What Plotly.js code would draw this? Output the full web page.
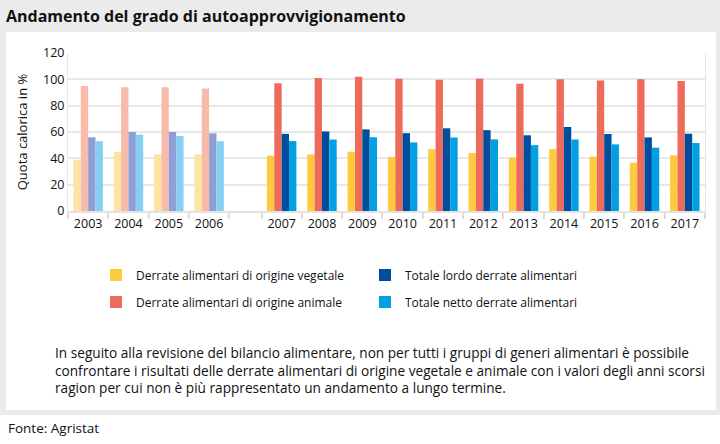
<!DOCTYPE html>
<html>
<head>
<meta charset="utf-8">
<script src="https://cdn.plot.ly/plotly-3.0.1.min.js"></script>
<style>
  html, body { margin: 0; padding: 0; background: #ffffff; }
  #chart { width: 720px; height: 444px; }
</style>
</head>
<body>
<div id="chart"></div>
<script>
// ---- Data ----
const years = ['2003','2004','2005','2006','2007','2008','2009','2010','2011','2012','2013','2014','2015','2016','2017'];
const vegetale = [39, 45, 43, 43, 42, 43, 45, 41, 47, 44, 40.5, 47, 41.3, 36.7, 42.3];
const animale  = [95, 94, 94, 93, 97, 101, 102, 100.5, 99.6, 100.5, 96.7, 100, 99.2, 100, 98.7];
const lordo    = [56, 60, 60, 59, 58.6, 60.4, 62, 59.1, 62.8, 61.4, 57.5, 63.8, 58.5, 55.9, 58.7];
const netto    = [53, 58, 57, 53, 53.1, 54.3, 56, 52.1, 55.8, 54.4, 50, 54.3, 50.6, 48.1, 51.6];
const seriesNames = [
  'Derrate alimentari di origine vegetale',
  'Derrate alimentari di origine animale',
  'Totale lordo derrate alimentari',
  'Totale netto derrate alimentari'
];
const oldCount = 4; // 2003-2006: old balance method (faded)

// ---- Styling ----
const colors      = ['#fecb3e', '#ee6b5b', '#004f9f', '#00a0e3'];
const fadedColors = ['#fee4a0', '#f8bba9', '#8f9ed4', '#86cff2'];
const FONT = '"Open Sans", "Noto Sans", sans-serif';
const W = 720, H = 444;
const M = {l: 68, r: 15, t: 53, b: 233};
const GAP = 0.8; // extra space between the two periods (in category units)

// x positions from index
const xpos = years.map((y, i) => i < oldCount ? i : i + GAP);
const bounds = xpos.map(x => x - 0.5);
bounds.push(xpos[oldCount - 1] + 0.5);
bounds.push(xpos[xpos.length - 1] + 0.5);

const legendOf = ['legend', 'legend2', 'legend', 'legend2'];
const allVals = [vegetale, animale, lordo, netto];
const traces = [];
allVals.forEach((vals, k) => {
  traces.push({
    type: 'bar', name: seriesNames[k], offsetgroup: 'g' + k,
    x: xpos.slice(0, oldCount), y: vals.slice(0, oldCount),
    marker: {color: fadedColors[k], line: {width: 0}},
    showlegend: false, hoverinfo: 'y+name'
  });
});
allVals.forEach((vals, k) => {
  traces.push({
    type: 'bar', name: seriesNames[k], offsetgroup: 'g' + k,
    x: xpos.slice(oldCount), y: vals.slice(oldCount),
    marker: {color: colors[k], line: {width: 0}},
    showlegend: true, legend: legendOf[k], hoverinfo: 'y+name'
  });
});

// pixel->paper helpers
const pw = W - M.l - M.r, ph = H - M.t - M.b;
const px = x => (x - M.l) / pw;
const py = y => (H - M.b - y) / ph;

const footLines = [
  'In seguito alla revisione del bilancio alimentare, non per tutti i gruppi di generi alimentari è possibile',
  'confrontare i risultati delle derrate alimentari di origine vegetale e animale con i valori degli anni scorsi',
  'ragion per cui non è più rappresentato un andamento a lungo termine.'
];
const annotations = [{
  text: footLines.join('<br>'), xref: 'paper', yref: 'paper', x: px(53), y: py(370),
  xanchor: 'left', yanchor: 'middle', showarrow: false, align: 'left',
  font: {family: FONT, size: 13.65, color: '#111111'}
}, {
  text: 'Fonte: Agristat', xref: 'paper', yref: 'paper', x: px(6), y: py(428),
  xanchor: 'left', yanchor: 'middle', showarrow: false,
  font: {family: FONT, size: 13.5, color: '#111111'}
}];

const shapes = [
  {type: 'rect', xref: 'paper', yref: 'paper', layer: 'below',
   x0: px(0), x1: px(720), y0: py(0), y1: py(415), fillcolor: '#ebebeb', line: {width: 0}},
  {type: 'rect', xref: 'paper', yref: 'paper', layer: 'below',
   x0: px(6), x1: px(716), y0: py(32), y1: py(410), fillcolor: '#ffffff', line: {width: 0}}
];

const legendBase = {
  orientation: 'h', xanchor: 'left', yanchor: 'middle',
  entrywidth: 224, entrywidthmode: 'pixels',
  font: {family: FONT, size: 12, color: '#111111'},
  bgcolor: 'rgba(0,0,0,0)', itemclick: false, itemdoubleclick: false
};

const layout = {
  width: W, height: H,
  margin: M,
  paper_bgcolor: '#ffffff',
  plot_bgcolor: 'rgba(0,0,0,0)',
  font: {family: FONT, size: 13, color: '#111111'},
  title: {
    text: '<b>Andamento del grado di autoapprovvigionamento</b>',
    xref: 'container', yref: 'container', x: 6 / W, xanchor: 'left',
    y: 1 - 16 / H, yanchor: 'middle',
    font: {family: FONT, size: 16, color: '#111111'}
  },
  barmode: 'group',
  bargap: 0.27,
  bargroupgap: 0,
  xaxis: {
    type: 'linear',
    range: [xpos[0] - 0.5, xpos[xpos.length - 1] + 0.5],
    tickmode: 'array', tickvals: xpos, ticktext: years,
    ticks: '', showgrid: false, zeroline: false,
    showline: true, linecolor: '#e3e3e3', linewidth: 2,
    tickfont: {family: FONT, size: 12.5, color: '#111111'},
    minor: {tickmode: 'array', tickvals: bounds, ticks: 'outside', ticklen: 6, tickwidth: 2, tickcolor: '#dddddd', showgrid: false},
    fixedrange: true
  },
  yaxis: {
    range: [0, 120], dtick: 20, tick0: 0,
    showgrid: true, gridcolor: '#e8e8e8', gridwidth: 2,
    zeroline: false, showline: true, mirror: true, linecolor: '#e8e8e8', linewidth: 1,
    ticks: '', tickfont: {family: FONT, size: 12.5, color: '#111111'},
    title: {text: 'Quota calorica in %', standoff: 12, font: {family: FONT, size: 13, color: '#111111'}},
    fixedrange: true
  },
  showlegend: true,
  legend: Object.assign({}, legendBase, {x: px(96), y: py(275)}),
  legend2: Object.assign({}, legendBase, {x: px(96), y: py(302)}),
  annotations: annotations,
  shapes: shapes
};

Plotly.newPlot('chart', traces, layout, {displayModeBar: false, staticPlot: true});
</script>
</body>
</html>
